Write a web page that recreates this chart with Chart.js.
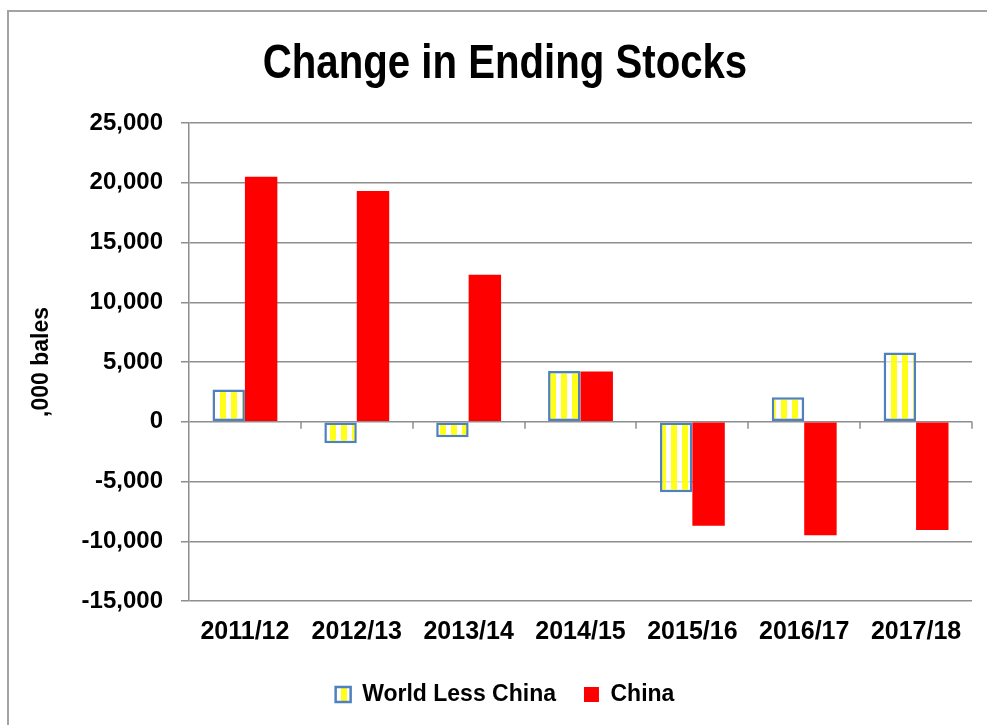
<!DOCTYPE html>
<html>
<head>
<meta charset="utf-8">
<script src="https://cdn.jsdelivr.net/npm/chart.js@4.4.1/dist/chart.umd.min.js"></script>
<style>
  html, body { margin: 0; padding: 0; background: #fff; overflow: hidden; }
  #frame { position: absolute; left: 7px; top: 10px; width: 1000px; height: 800px; border: 2px solid #a3a3a3; }
  #wrap { position: absolute; left: 0; top: 0; width: 987px; height: 725px; }
</style>
</head>
<body>
<div id="frame"></div>
<div id="wrap"><canvas id="chart"></canvas></div>
<script>
const categories = ['2011/12', '2012/13', '2013/14', '2014/15', '2015/16', '2016/17', '2017/18'];
const worldLessChina = [2700, -1800, -1300, 4250, -5900, 2050, 5800];
const china = [20500, 19300, 12300, 4200, -8700, -9500, -9050];
const yMin = -15000;
const yMax = 25000;
const yStep = 5000;
const chartTitle = 'Change in Ending Stocks';

const fontFamily = "'Liberation Sans', Arial, sans-serif";
const gridColor = '#8e8e8e';

// yellow / white vertical stripes for World Less China
function stripePattern() {
    const c = document.createElement('canvas');
    c.width = 11;
    c.height = 11;
    const g = c.getContext('2d');
    g.fillStyle = 'rgba(255,255,255,0.7)';
    g.fillRect(0, 0, 11, 11);
    g.fillStyle = 'rgba(255,255,0,0.9)';
    g.fillRect(0, 0, 6, 11);
    return g.createPattern(c, 'repeat');
}

// small tick marks on the zero line between categories
const zeroTicks = {
    id: 'zeroTicks',
    beforeDatasetsDraw: function (chart) {
        const {ctx, scales: {x, y}} = chart;
        const y0 = y.getPixelForValue(0);
        ctx.save();
        ctx.strokeStyle = gridColor;
        ctx.lineWidth = 1.5;
        for (let i = 1; i <= categories.length; i++) {
            const px = Math.round(x.getPixelForValue(i - 0.5));
            ctx.beginPath();
            ctx.moveTo(px, y0);
            ctx.lineTo(px, y0 + 7);
            ctx.stroke();
        }
        ctx.restore();
    }
};

// condensed bold title, like Arial Narrow
const narrowTitle = {
    id: 'narrowTitle',
    afterDraw: function (chart) {
        const ctx = chart.ctx;
        ctx.save();
        ctx.font = 'bold 49px ' + fontFamily;
        ctx.fillStyle = '#000';
        ctx.textAlign = 'center';
        ctx.textBaseline = 'alphabetic';
        ctx.translate(505, 78);
        ctx.scale(0.82, 1);
        ctx.fillText(chartTitle, 0, 0);
        ctx.restore();
    }
};

new Chart(document.getElementById('chart'), {
    type: 'bar',
    data: {
        labels: categories,
        datasets: [
            {
                label: 'World Less China',
                data: worldLessChina,
                backgroundColor: stripePattern(),
                borderColor: '#4f81bd',
                borderWidth: 2.5,
                borderSkipped: false
            },
            {
                label: 'China',
                data: china,
                backgroundColor: '#ff0000',
                borderWidth: 0
            }
        ]
    },
    plugins: [zeroTicks, narrowTitle],
    options: {
        responsive: true,
        maintainAspectRatio: false,
        animation: false,
        locale: 'en-US',
        categoryPercentage: 0.58,
        barPercentage: 1,
        layout: {
            padding: {left: 38, right: 15, top: 123, bottom: 9}
        },
        plugins: {
            legend: {
                position: 'bottom',
                labels: {
                    color: '#000',
                    font: {family: fontFamily, size: 23, weight: 'bold'},
                    boxWidth: 15,
                    boxHeight: 15,
                    padding: 28
                }
            },
            tooltip: {enabled: false}
        },
        scales: {
            x: {
                grid: {display: false},
                border: {display: false},
                ticks: {
                    color: '#000',
                    font: {family: fontFamily, size: 25, weight: 'bold'},
                    padding: 8,
                    maxRotation: 0
                },
                afterFit: function (scale) {
                    scale.height = 54;
                }
            },
            y: {
                min: yMin,
                max: yMax,
                ticks: {
                    stepSize: yStep,
                    color: '#000',
                    font: {family: fontFamily, size: 24, weight: 'bold'},
                    padding: 18
                },
                grid: {
                    color: gridColor,
                    lineWidth: 1.5,
                    tickLength: 8,
                    tickColor: gridColor
                },
                border: {color: gridColor, width: 1.5},
                title: {
                    display: true,
                    text: ',000 bales',
                    color: '#000',
                    font: {family: fontFamily, size: 23, weight: 'bold'},
                    padding: {top: -10, bottom: 0}
                },
                afterFit: function (scale) {
                    scale.width = 151;
                }
            }
        }
    }
});
</script>
</body>
</html>
